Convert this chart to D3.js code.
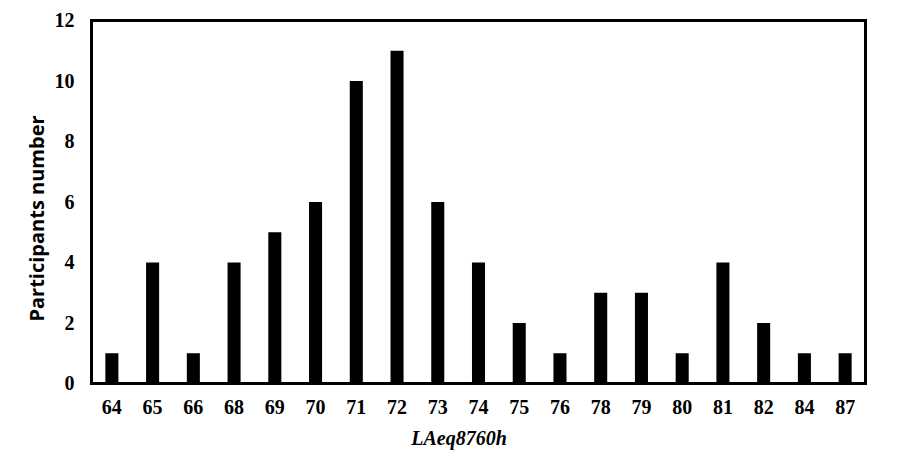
<!DOCTYPE html>
<html>
<head>
<meta charset="utf-8">
<script src="https://cdn.jsdelivr.net/npm/d3@7"></script>
<style>
  body { margin: 0; background: #fff; }
</style>
</head>
<body>
<div id="chart"></div>
<script>
// chart data
const levels = ["64", "65", "66", "68", "69", "70", "71", "72", "73", "74", "75", "76", "78", "79", "80", "81", "82", "84", "87"];
const participants = [1, 4, 1, 4, 5, 6, 10, 11, 6, 4, 2, 1, 3, 3, 1, 4, 2, 1, 1];
const yTicks = [0, 2, 4, 6, 8, 10, 12];

const width = 897, height = 466;
const margin = { top: 20.5, right: 31.5, bottom: 82.5, left: 91.5 };
const innerW = width - margin.left - margin.right;
const innerH = height - margin.top - margin.bottom;

const svg = d3.select("#chart").append("svg")
    .attr("width", width)
    .attr("height", height);

const g = svg.append("g")
    .attr("transform", `translate(${margin.left},${margin.top})`);

const x = d3.scaleBand()
    .domain(levels)
    .range([0, innerW])
    .paddingInner(0.68)
    .paddingOuter(0.34);

const y = d3.scaleLinear()
    .domain([0, 12])
    .range([innerH, 0]);

// bars
g.selectAll("rect.bar")
    .data(levels.map((d, i) => ({ level: d, value: participants[i] })))
    .enter()
    .append("rect")
      .attr("class", "bar")
      .attr("x", d => x(d.level))
      .attr("y", d => y(d.value))
      .attr("width", x.bandwidth())
      .attr("height", d => innerH - y(d.value))
      .attr("fill", "#000");

// frame
g.append("rect")
    .attr("x", 0)
    .attr("y", 0)
    .attr("width", innerW)
    .attr("height", innerH)
    .attr("fill", "none")
    .attr("stroke", "#000")
    .attr("stroke-width", 3);

// axes (labels only)
const tickFont = "'Liberation Serif', 'Times New Roman', serif";

const xAxis = g.append("g")
    .attr("transform", `translate(0,${innerH})`)
    .call(d3.axisBottom(x).tickSize(0).tickPadding(16));
xAxis.select(".domain").remove();
xAxis.selectAll("text")
    .style("font-family", tickFont)
    .style("font-weight", "bold")
    .style("font-size", "20px")
    .attr("fill", "#000");

const yAxis = g.append("g")
    .call(d3.axisLeft(y).tickValues(yTicks).tickSize(0).tickPadding(17));
yAxis.select(".domain").remove();
yAxis.selectAll("text")
    .style("font-family", tickFont)
    .style("font-weight", "bold")
    .style("font-size", "20px")
    .attr("fill", "#000");

// axis titles
svg.append("text")
    .attr("x", 459)
    .attr("y", 445)
    .attr("text-anchor", "middle")
    .style("font-family", tickFont)
    .style("font-weight", "bold")
    .style("font-style", "italic")
    .style("font-size", "20px")
    .text("LAeq8760h");

svg.append("text")
    .attr("transform", `translate(44,${margin.top + 198}) rotate(-90)`)
    .attr("text-anchor", "middle")
    .style("font-family", "'Open Sans', 'Liberation Sans', sans-serif")
    .style("font-weight", "bold")
    .style("font-size", "20px")
    .text("Participants number");
</script>
</body>
</html>
